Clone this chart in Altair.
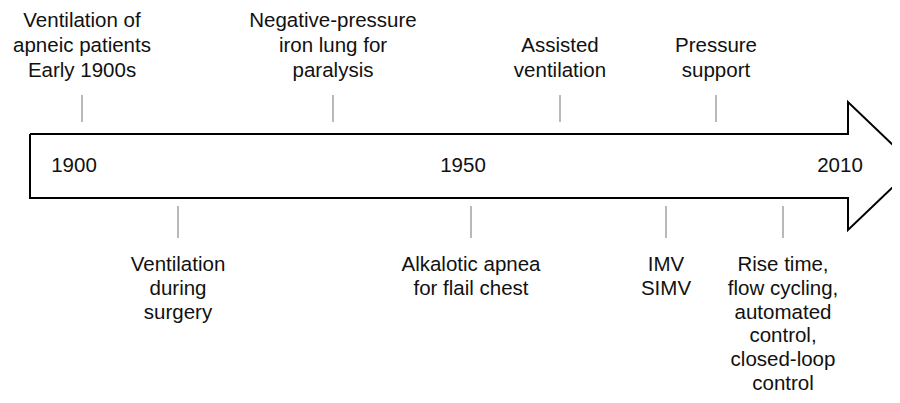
import altair as alt
import pandas as pd

# ---- data -------------------------------------------------------------
# events above the timeline (label, position along the timeline)
top_labels = [
    "Ventilation of\napneic patients\nEarly 1900s",
    "Negative-pressure\niron lung for\nparalysis",
    "Assisted\nventilation",
    "Pressure\nsupport",
]
top_pos = [82, 333, 560, 716]

# events below the timeline
bottom_labels = [
    "Ventilation\nduring\nsurgery",
    "Alkalotic apnea\nfor flail chest",
    "IMV\nSIMV",
    "Rise time,\nflow cycling,\nautomated\ncontrol,\nclosed-loop\ncontrol",
]
bottom_pos = [178, 471, 666, 783]

# year markers written inside the arrow
year_labels = ["1900", "1950", "2010"]
year_pos = [74, 463, 840]

# ---- layout ----------------------------------------------------------
W, H = 884, 387
X_DOMAIN = [8, 8 + W]
Y_DOMAIN = [8 + H, 8]
FONT = "Liberation Sans"
FS = 20.5
LH_TOP = 25
LH_BOT = 23.8

# arrow geometry (in the same coordinate frame)
ax0, axh, axtip = 30, 848, 915
acy, body_half, head_half = 166, 32, 64
arrow = pd.DataFrame({
    "x": [ax0, axh, axh, axtip, axh, axh, ax0, ax0],
    "y": [acy - body_half, acy - body_half, acy - head_half, acy,
          acy + head_half, acy + body_half, acy + body_half, acy - body_half],
    "o": list(range(8)),
})

top_base = 77
top_df = pd.DataFrame({"label": top_labels, "x": top_pos})
top_df["ty"] = [top_base - (lbl.count("\n")) * LH_TOP for lbl in top_labels]
top_df["y0"] = 95
top_df["y1"] = 122
bot_df = pd.DataFrame({"label": bottom_labels, "x": bottom_pos})
bot_df["ty"] = 271
bot_df["y0"] = 206
bot_df["y1"] = 238
year_df = pd.DataFrame({"label": year_labels, "x": year_pos})
year_df["ty"] = acy

xs = alt.Scale(domain=X_DOMAIN, nice=False, zero=False)
ys = alt.Scale(domain=Y_DOMAIN, nice=False, zero=False)


def X(f="x"):
    return alt.X(f"{f}:Q", scale=xs, axis=None)


def Y(f="y"):
    return alt.Y(f"{f}:Q", scale=ys, axis=None)


arrow_layer = alt.Chart(arrow).mark_line(
    color="#000", strokeWidth=2, clip=True, strokeJoin="miter"
).encode(x=X(), y=Y(), order="o:Q")

top_ticks = alt.Chart(top_df).mark_rule(color="#8a8a8a", strokeWidth=1.2).encode(
    x=X(), y=Y("y0"), y2="y1:Q"
)
bot_ticks = alt.Chart(bot_df).mark_rule(color="#8a8a8a", strokeWidth=1.2).encode(
    x=X(), y=Y("y0"), y2="y1:Q"
)

txt = dict(font=FONT, fontSize=FS, color="#111", align="center", lineBreak="\n")

top_text = alt.Chart(top_df).mark_text(
    baseline="alphabetic", lineHeight=LH_TOP, **txt
).encode(x=X(), y=Y("ty"), text="label:N")
bot_text = alt.Chart(bot_df).mark_text(
    baseline="alphabetic", lineHeight=LH_BOT, **txt
).encode(x=X(), y=Y("ty"), text="label:N")
year_text = alt.Chart(year_df).mark_text(baseline="middle", **txt).encode(
    x=X(), y=Y("ty"), text="label:N"
)

chart = alt.layer(
    arrow_layer, top_ticks, bot_ticks, top_text, bot_text, year_text
).properties(
    width=W, height=H, padding=0, autosize=alt.AutoSizeParams(type="none")
).configure_view(stroke=None)

chart.save("out.html", embed_options={"renderer": "svg", "actions": False})
